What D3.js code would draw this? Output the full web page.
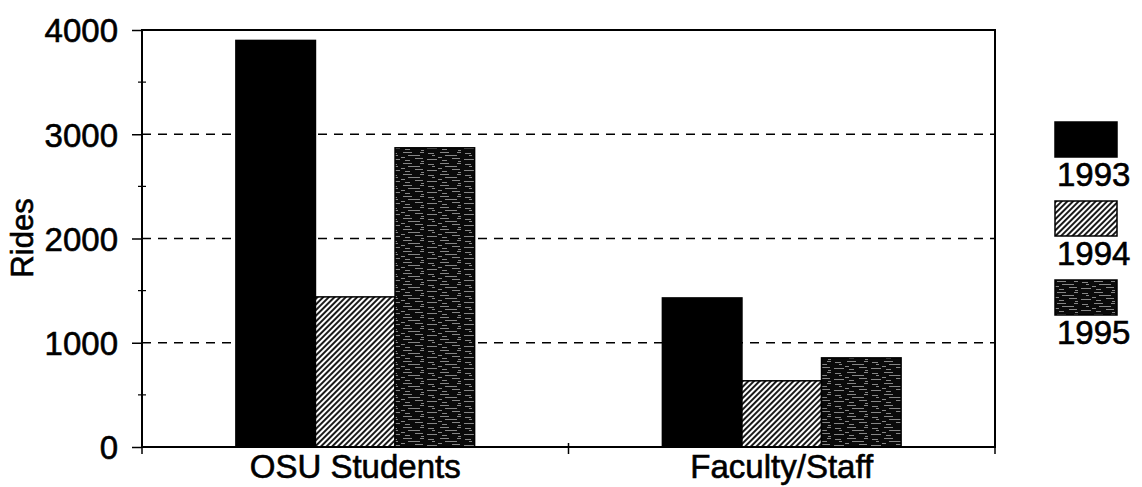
<!DOCTYPE html>
<html>
<head>
<meta charset="utf-8">
<script src="https://cdn.jsdelivr.net/npm/d3@7"></script>
<style>
  body { margin: 0; background: #fff; }
  svg { display: block; font-family: "Liberation Sans", Arial, sans-serif; }
  text { fill: #000; stroke: #000; stroke-width: 0.6px; }
</style>
</head>
<body>
<script>
// data
var categories = ["OSU Students", "Faculty/Staff"];
var years = ["1993", "1994", "1995"];
var rides1993 = [3900, 1430];
var rides1994 = [1440, 635];
var rides1995 = [2870, 855];
var yTicks = [0, 1000, 2000, 3000, 4000];

var width = 1142, height = 487;
var margin = {top: 30, right: 147, bottom: 40, left: 142};
var plotW = width - margin.left - margin.right;
var plotH = height - margin.top - margin.bottom;

var svg = d3.select("body").append("svg")
  .attr("width", width)
  .attr("height", height);

// fills
var defs = svg.append("defs");
var hatch = defs.append("pattern")
  .attr("id", "hatch")
  .attr("patternUnits", "userSpaceOnUse")
  .attr("width", 4).attr("height", 4)
  .attr("patternTransform", "rotate(45)");
hatch.append("rect").attr("width", 4).attr("height", 4).attr("fill", "#fff");
hatch.append("line").attr("x1", 1).attr("y1", 0).attr("x2", 1).attr("y2", 4)
  .attr("stroke", "#000").attr("stroke-width", 1.8);

var dense = defs.append("pattern")
  .attr("id", "dense")
  .attr("patternUnits", "userSpaceOnUse")
  .attr("width", 37).attr("height", 11);
dense.append("rect").attr("width", 37).attr("height", 11).attr("fill", "#0a0a0a");
// faint white streaks
[[2, 1, 9], [19, 1, 4], [27, 2, 6], [7, 4, 12], [31, 4, 3], [0, 6, 4],
 [14, 7, 8], [26, 8, 10], [4, 9, 5], [20, 10, 3]].forEach(function (s) {
  dense.append("rect").attr("x", s[0]).attr("y", s[1]).attr("width", s[2]).attr("height", 0.7)
    .attr("fill", "#bbb");
});

var fills = ["#000", "url(#hatch)", "url(#dense)"];

var g = svg.append("g").attr("transform", "translate(" + margin.left + "," + margin.top + ")");

var y = d3.scaleLinear().domain([0, 4000]).range([plotH, 0]);
var x0 = d3.scaleBand().domain(categories).range([0, plotW]).paddingInner(0).paddingOuter(0);
var x1 = d3.scaleBand().domain(years).range([0, x0.bandwidth()]).paddingInner(0).paddingOuter(1.18);

// gridlines
g.selectAll(".grid").data(yTicks.filter(function (d) { return d > 0 && d < 4000; }))
  .enter().append("line")
  .attr("x1", 0).attr("x2", plotW)
  .attr("y1", function (d) { return y(d); }).attr("y2", function (d) { return y(d); })
  .attr("stroke", "#000").attr("stroke-width", 1.5)
  .attr("stroke-dasharray", "9,7");

// bars
var series = [rides1993, rides1994, rides1995];
var rows = [];
categories.forEach(function (c, i) {
  years.forEach(function (yr, j) {
    rows.push({cat: c, year: yr, j: j, value: series[j][i]});
  });
});
g.selectAll(".bar").data(rows).enter().append("rect")
  .attr("x", function (d) { return x0(d.cat) + x1(d.year); })
  .attr("y", function (d) { return y(d.value); })
  .attr("width", x1.bandwidth())
  .attr("height", function (d) { return y(0) - y(d.value); })
  .attr("fill", function (d) { return fills[d.j]; })
  .attr("stroke", "#000").attr("stroke-width", 1.5);

// frame
g.append("rect").attr("width", plotW).attr("height", plotH)
  .attr("fill", "none").attr("stroke", "#000").attr("stroke-width", 2);

// y axis
var yAxis = d3.axisLeft(y).tickValues(yTicks).tickSize(10).tickPadding(14).tickFormat(d3.format("d"));
var ya = g.append("g").call(yAxis);
ya.select(".domain").remove();
ya.selectAll("line").attr("stroke-width", 1.5);
ya.selectAll("text").style("font-size", "33px").attr("dy", "0.36em");

// minor ticks
g.selectAll(".minor").data(d3.range(500, 4000, 1000))
  .enter().append("line")
  .attr("x1", -4).attr("x2", 4)
  .attr("y1", function (d) { return y(d); }).attr("y2", function (d) { return y(d); })
  .attr("stroke", "#000").attr("stroke-width", 1.2);

// x ticks at band edges
var edges = [0, x0(categories[1]), plotW];
g.selectAll(".xt").data(edges).enter().append("line")
  .attr("x1", function (d) { return d; }).attr("x2", function (d) { return d; })
  .attr("y1", plotH - 4).attr("y2", plotH + 7)
  .attr("stroke", "#000").attr("stroke-width", 1.5);

// category labels
g.selectAll(".cat").data(categories).enter().append("text")
  .attr("x", function (d) { return x0(d) + x0.bandwidth() / 2; })
  .attr("y", plotH + 31)
  .attr("text-anchor", "middle")
  .style("font-size", "33px")
  .text(function (d) { return d; });

// y title
svg.append("text")
  .attr("transform", "translate(33,238) rotate(-90)")
  .attr("text-anchor", "middle")
  .style("font-size", "31px")
  .text("Rides");

// legend
var legend = svg.append("g").attr("transform", "translate(1055,122)");
var lg = legend.selectAll("g").data(years).enter().append("g")
  .attr("transform", function (d, i) { return "translate(0," + (i * 79) + ")"; });
lg.append("rect").attr("width", 62).attr("height", 35)
  .attr("fill", function (d, i) { return fills[i]; })
  .attr("stroke", "#000").attr("stroke-width", 1.5);
lg.append("text").attr("x", 2).attr("y", 64)
  .style("font-size", "33px")
  .text(function (d) { return d; });
</script>
</body>
</html>
